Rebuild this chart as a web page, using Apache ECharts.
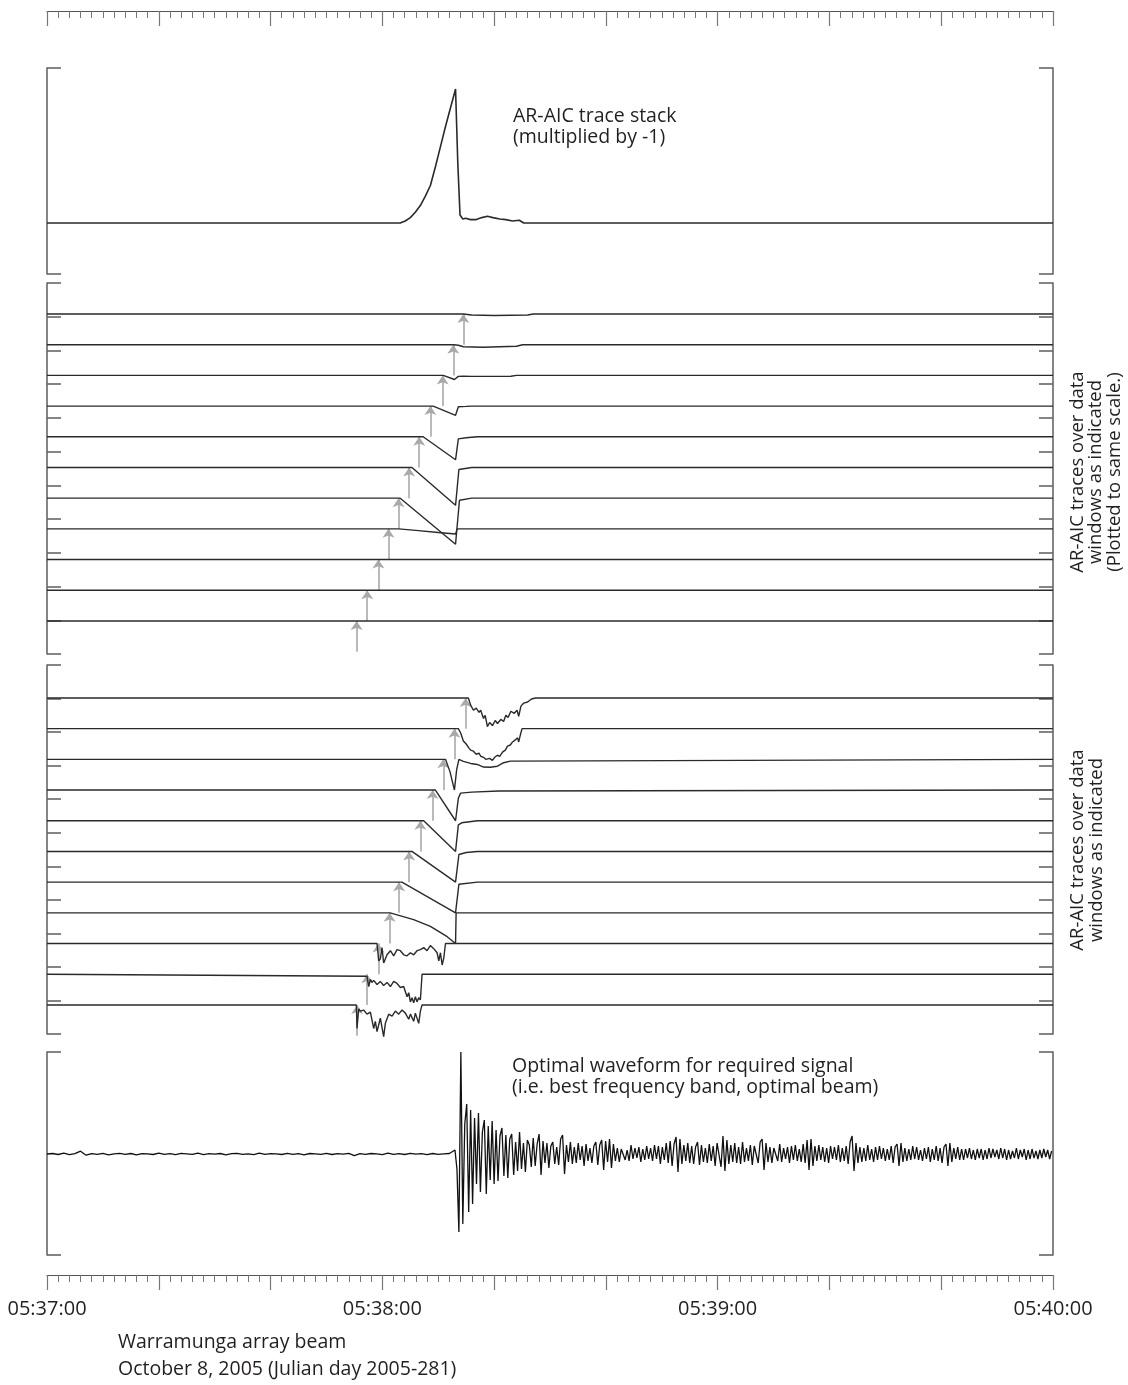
<!DOCTYPE html>
<html>
<head>
<meta charset="utf-8">
<script src="https://cdn.jsdelivr.net/npm/echarts@6/dist/echarts.min.js"></script>
<style>
html,body{margin:0;padding:0;background:#fff;}
#chart{width:1128px;height:1385px;}
</style>
</head>
<body>
<div id="chart"></div>
<script>
// ---------------- DATA (time in seconds after 05:37:00) ----------------
const TIME_MIN = 0, TIME_MAX = 180;
const timeTickLabels = ['05:37:00', '05:38:00', '05:39:00', '05:40:00'];

// AR-AIC trace stack (multiplied by -1), % of peak
const stackTrace = [[0,0],[63.2,0],[64.1,1.5],[65,4],[65.9,8],[66.8,13],[67.7,20],[68.6,28],[69.5,42],[70.4,57],[71.3,72],[72.2,86],[73.1,100],[73.5,45],[73.9,6],[74.4,3],[74.9,3.5],[75.8,2.5],[76.8,2.5],[77.8,4],[78.8,5],[79.8,4],[81.0,3],[82.1,2.5],[83.3,1.5],[84.5,2],[85.3,0],[180,0]];

// Panel A: AR-AIC traces (plotted to same scale) - pick times and deflections
const picksA = [74.5, 72.7, 70.8, 68.6, 66.6, 64.8, 62.9, 61.1, 59.3, 57.3, 55.4];
const tracesA = [
  [[74.5,0],[76,-1],[80,-1.5],[86,-1],[87,0]],
  [[72.8,0],[73.6,-0.5],[74.5,-2],[78,-2.5],[84,-1.5],[85.1,0]],
  [[70.9,0],[72.9,-4],[73.6,-1],[74.5,-0.7],[76,-1],[83,-0.8],[84,0]],
  [[69.1,0],[73.1,-9],[73.6,-0.7],[75,-0.3],[76,0]],
  [[67.3,0],[73.1,-22.5],[73.6,-2],[75,-1],[77,0]],
  [[65.3,0],[73.1,-37],[73.7,-2],[76,0]],
  [[63.2,0],[73.1,-45],[73.8,-2],[76,0]],
  [[62.9,0],[66,-1.5],[70,-3.5],[73.1,-5],[73.4,0]],
  [],
  [],
  []
];

// Panel B: AR-AIC traces over data windows as indicated
const picksB = [74.9, 72.9, 70.9, 69.0, 66.8, 64.8, 63.0, 61.3, 59.3, 57.3, 55.5];
const tracesB = [
  [[75.4,0],[75.8,-7],[76.3,-12],[76.8,-10],[77.3,-14],[77.6,-12],[78.1,-20],[78.4,-17],[78.8,-28],[79.2,-24],[79.7,-27],[80.2,-22],[80.6,-25],[81.2,-21],[81.7,-23],[82.1,-17],[82.5,-19],[83.0,-13],[83.6,-15],[84.1,-12],[84.4,-18],[84.8,-8],[85.3,-5],[86.0,-4],[86.7,-1],[87.4,0]],
  [[73.6,0],[74.0,-4],[74.5,-12],[75.0,-15],[75.5,-19],[75.8,-21],[76.3,-22],[76.8,-25],[77.3,-24],[77.6,-27],[78.1,-28],[78.5,-30],[78.8,-31],[79.2,-29],[79.7,-31],[80.1,-28],[80.6,-26],[81.0,-27],[81.5,-23],[82.0,-21],[82.4,-17],[82.9,-16],[83.3,-13],[83.8,-11],[84.2,-9],[84.4,-13],[84.7,-6],[85.0,0]],
  [[71.3,0],[72.1,-12],[72.9,-30],[73.3,-10],[73.7,0],[74.5,-2],[75.8,-4],[77.0,-5],[78.1,-7.5],[79.3,-7.7],[80.6,-6.7],[81.7,-3.3],[82.9,-1.7],[83.2,0]],
  [[69.5,0],[73.1,-30],[73.6,-8],[74.0,-3],[76.0,-2],[80.8,-1],[81,0]],
  [[67.4,0],[73.1,-30],[73.6,-4],[74.2,-2],[77,0]],
  [[65.3,0],[73.1,-30],[73.7,-3],[75,-1],[77,0]],
  [[63.5,0],[73.1,-30],[73.7,-2],[77,0]],
  [[61.4,0],[61.5,-1.7],[65.6,-6.7],[68.6,-13.3],[71.6,-23.3],[73.1,-30],[73.2,0]],
  [[59.05,0],[59.35,-17],[59.64,-15],[59.94,-4],[60.24,-19],[60.84,-11],[61.44,-7],[62.03,-12],[62.63,-6],[63.23,-7],[63.82,-11],[64.42,-12],[65.02,-9],[65.61,-11],[66.21,-7],[66.81,-6],[67.41,-4],[68.0,-7],[68.6,-2],[69.2,-5],[69.8,-9],[70.1,-17],[70.4,-9],[70.7,-21],[71.0,-14],[71.3,0]],
  [[57.26,-2],[57.56,-12],[57.86,-5],[58.15,-8],[58.45,-6],[59.05,-10],[59.64,-7],[60.24,-11],[60.84,-8],[61.44,-12],[62.03,-7],[62.63,-9],[63.23,-13],[63.82,-12],[64.42,-22],[64.72,-18],[65.02,-27],[65.32,-23],[65.61,-28],[65.91,-22],[66.21,-27],[66.51,-23],[66.81,-25],[67.11,0]],
  [[55.35,0],[55.47,-23],[55.77,-4],[56.06,-6],[56.66,-5],[57.26,-9],[57.86,-7],[58.45,-23],[58.75,-16],[59.05,-26],[59.64,-13],[60.24,-31],[60.54,-18],[61.14,-9],[61.74,-11],[62.33,-6],[62.93,-9],[63.53,-5],[64.12,-8],[64.72,-14],[65.02,-9],[65.61,-16],[65.91,-8],[66.51,-18],[66.81,-6],[67.11,0]]
];

// Optimal beam waveform: pre-event noise (1 s step) and signal/coda (0.35 s step)
const beamNoiseStart = 0, beamNoiseStep = 1;
const beamNoise = [0,0.5,-0.5,0.8,-0.6,0.3,2.8,-1.2,0.4,-0.3,0.6,-0.8,0.2,0.7,-0.4,0.5,-0.9,0.3,0.1,-0.5,0.9,-0.3,0.4,-0.7,0.6,0.2,-0.4,0.8,-0.6,0.3,-0.2,0.5,-0.8,0.4,0.7,-0.3,0.2,-0.6,0.9,-0.4,0.3,0.1,-0.5,0.6,-0.3,0.4,-0.8,0.5,0.2,-0.4,0.7,-0.5,0.3,-0.2,0.6,-1.6,0.4,-0.3,0.5,0.2,-0.6,0.8,-0.4,0.3,-0.5,0.6,-0.2,0.4,-0.7,0.5,-0.3,0.2,0.5];
const beamCodaStart = 73, beamCodaStep = 0.35;
const beamCoda = [
  4,-15,-78,102,-70,30,50,-58,44,-50,36,-30,41,-38,22,34,-40,28,-26,33,
  -30,24,-27,18,26,-22,19,-24,15,20,-21,12,-17,22,-15,11,-18,14,9,-13,
  16,-12,10,20,-21,13,-9,11,-14,8,12,-10,7,-11,15,19,-20,9,-8,12,
  -10,7,-9,11,-6,8,-12,10,-7,6,-9,8,12,-11,9,14,-16,13,-8,15,
  -14,10,-7,6,-8,5,7,-6,4,-7,9,-5,6,-4,7,-8,5,-6,8,-5,
  6,-7,9,-5,8,-10,7,-6,11,-9,13,-12,10,17,-18,15,-10,9,-7,11,
  -9,8,-10,7,12,-11,9,-8,6,-9,10,-7,8,-12,11,9,-13,18,-17,14,
  -10,9,-8,11,-9,7,-10,12,-8,6,-7,9,-11,8,10,-9,12,15,-16,11,
  -8,7,-9,6,8,-7,10,-8,6,-5,7,-9,8,-6,9,-7,5,-8,10,-9,
  14,-16,15,-12,8,-7,9,-6,7,-8,6,-9,8,-5,7,-6,9,-8,6,-7,
  8,-10,12,18,-17,11,-9,7,-8,6,-7,9,-6,5,-8,7,-6,8,-5,6,
  -7,5,-6,8,-9,7,10,-12,11,-8,6,-7,5,-6,8,-5,7,-6,4,-7,
  6,-5,7,-8,5,-6,8,-7,6,-9,7,10,-12,11,-8,6,-5,7,-6,5,
  -6,5,-4,6,-5,4,-6,5,-4,5,-6,4,-5,6,-4,5,-3,4,-5,6,
  -4,5,-6,4,-5,3,-4,6,-5,4,-3,5,-6,4,-5,5,-4,3,-5,4,
  -4,5,-3,4,-5,3,-2
];

// ---------------- CHART ----------------
const TRACE_GAP = 30;
const FONT = '"Open Sans", "Noto Sans", sans-serif';
const TEXT_COLOR = '#231f20';
const FRAME_COLOR = '#666';
const TRACE_COLOR = '#2a2a2a';

const chart = echarts.init(document.getElementById('chart'), null, {renderer: 'canvas'});

const grids = [
  {left: 47, right: 75, top: 11, height: 1},     // top ruler
  {left: 47, right: 75, top: 68, height: 206},   // stack
  {left: 47, right: 75, top: 283, height: 371},  // traces A
  {left: 47, right: 75, top: 665, height: 369},  // traces B
  {left: 47, right: 75, top: 1052, height: 203}, // beam
  {left: 47, right: 75, top: 1274, height: 1}    // bottom ruler
];

function rulerAxis(gridIndex, position) {
  const top = position === 'top';
  return {
    type: 'value', gridIndex, position, min: TIME_MIN, max: TIME_MAX, interval: 20,
    axisLine: {show: true, onZero: false, lineStyle: {color: '#555', width: 1.2}},
    axisTick: {show: true, inside: top, length: 15, lineStyle: {color: '#777', width: 1.2}},
    minorTick: {show: true, splitNumber: 10, length: 7, lineStyle: {color: '#777', width: 1}},
    splitLine: {show: false},
    axisLabel: top ? {show: false} : {
      show: true, margin: 24, fontSize: 20, fontFamily: FONT, color: TEXT_COLOR,
      formatter: v => (v % 60 === 0 ? timeTickLabels[v / 60] : '')
    }
  };
}

const xAxes = [rulerAxis(0, 'top')];
for (let g = 1; g <= 4; g++) {
  xAxes.push({type: 'value', gridIndex: g, min: TIME_MIN, max: TIME_MAX, show: false});
}
xAxes.push(rulerAxis(5, 'bottom'));

const yAxes = [];
function addY(cfg) { yAxes.push(cfg); return yAxes.length - 1; }
function bracket(gridIndex, position, n) {
  return addY({
    type: 'value', gridIndex, position, min: 0, max: n, interval: 1,
    axisLine: {show: true, lineStyle: {color: FRAME_COLOR, width: 1.6}},
    axisTick: {show: true, inside: true, length: 14, lineStyle: {color: FRAME_COLOR, width: 1.6}},
    axisLabel: {show: false}, splitLine: {show: false}
  });
}
function dataAxis(gridIndex, min, max) {
  return addY({type: 'value', gridIndex, min, max, show: false, splitLine: {show: false}});
}

dataAxis(0, 0, 1);
bracket(1, 'left', 1); bracket(1, 'right', 1);
const yStack = dataAxis(1, -38.1, 115.7);
bracket(2, 'left', 11); bracket(2, 'right', 11);
const yA = dataAxis(2, -332.3, 30.3);
bracket(3, 'left', 11); bracket(3, 'right', 11);
const yB = dataAxis(3, -328.4, 32.2);
bracket(4, 'left', 1); bracket(4, 'right', 1);
const yBeam = dataAxis(4, -101, 102);
dataAxis(5, 0, 1);

const series = [];
function traceSeries(xi, yi, data, width) {
  series.push({
    type: 'line', xAxisIndex: xi, yAxisIndex: yi, data, showSymbol: false, symbol: 'none',
    lineStyle: {color: TRACE_COLOR, width: width || 1.4}, silent: true, z: 3, clip: false
  });
}

traceSeries(1, yStack, stackTrace, 1.6);

function addSection(xi, yi, traces, picks) {
  series.push({
    type: 'lines', coordinateSystem: 'cartesian2d', xAxisIndex: xi, yAxisIndex: yi,
    symbol: ['none', 'arrow'], symbolSize: 9, silent: true, z: 2, clip: false,
    lineStyle: {color: '#a9a9a9', width: 1.6, opacity: 1, curveness: 0},
    data: picks.map((t, i) => ({coords: [[t, -(i + 1) * TRACE_GAP], [t, -i * TRACE_GAP]]}))
  });
  traces.forEach((pts, i) => {
    const base = -i * TRACE_GAP;
    const full = [[TIME_MIN, 0], ...pts, [TIME_MAX, 0]];
    traceSeries(xi, yi, full.map(([t, d]) => [t, base + d]));
  });
}
addSection(2, yA, tracesA, picksA);
addSection(3, yB, tracesB, picksB);

const beamData = beamNoise.map((v, i) => [beamNoiseStart + i * beamNoiseStep, v])
  .concat(beamCoda.map((v, i) => [beamCodaStart + i * beamCodaStep, v]))
  .filter(p => p[0] <= TIME_MAX);
series.push({
  type: 'line', xAxisIndex: 4, yAxisIndex: yBeam, data: beamData, showSymbol: false, symbol: 'none',
  lineStyle: {color: '#111', width: 1.3}, silent: true, z: 3, clip: false
});

const txt = (left, top, text, extra) => ({
  type: 'text', left, top, silent: true,
  style: Object.assign({text, fill: TEXT_COLOR, font: '19.5px ' + FONT, lineHeight: 21}, extra || {})
});

const graphic = [
  txt(513, 106, 'AR-AIC trace stack\n(multiplied by -1)'),
  txt(512, 1056, 'Optimal waveform for required signal\n(i.e. best frequency band, optimal beam)'),
  txt(118, 1329, 'Warramunga array beam\nOctober 8, 2005 (Julian day 2005-281)', {lineHeight: 27}),
  {
    type: 'text', x: 1096, y: 472, rotation: Math.PI / 2, silent: true,
    style: {text: 'AR-AIC traces over data\nwindows as indicated\n(Plotted to same scale.)', fill: TEXT_COLOR,
      font: '18.5px ' + FONT, lineHeight: 18.5, align: 'center', verticalAlign: 'middle'}
  },
  {
    type: 'text', x: 1087, y: 850, rotation: Math.PI / 2, silent: true,
    style: {text: 'AR-AIC traces over data\nwindows as indicated', fill: TEXT_COLOR,
      font: '18.5px ' + FONT, lineHeight: 18.5, align: 'center', verticalAlign: 'middle'}
  }
];

chart.setOption({
  animation: false,
  backgroundColor: '#fff',
  grid: grids,
  xAxis: xAxes,
  yAxis: yAxes,
  series,
  graphic
});
</script>
</body>
</html>
